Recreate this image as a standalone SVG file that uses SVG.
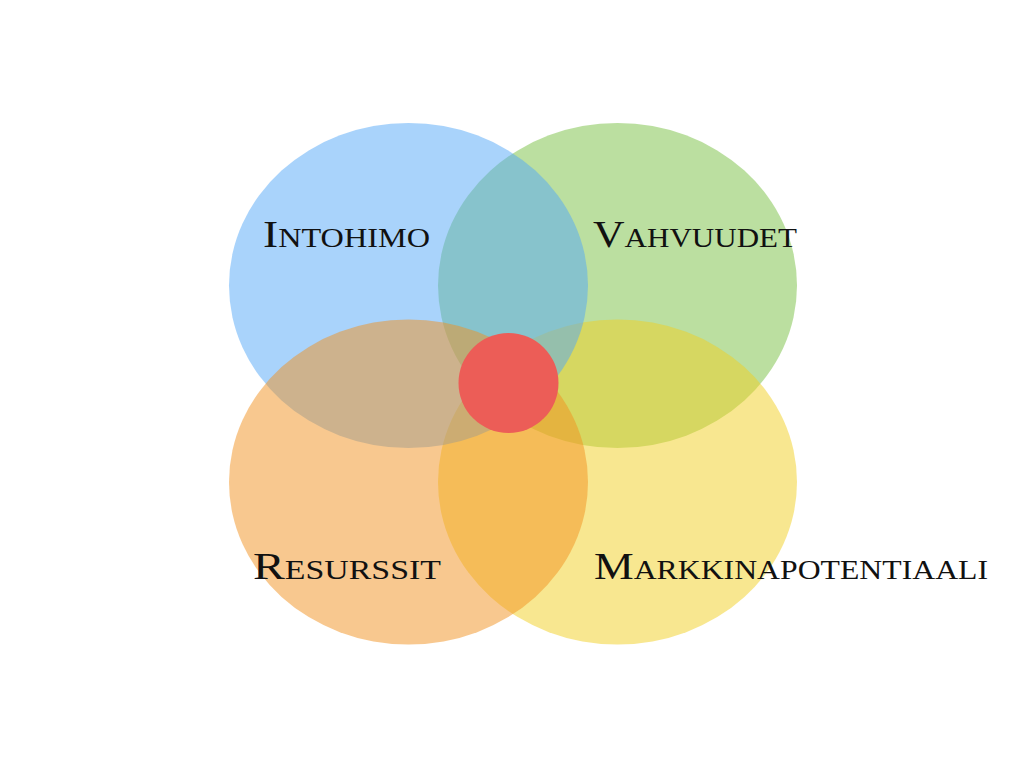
<svg xmlns="http://www.w3.org/2000/svg" width="1024" height="768" viewBox="0 0 1024 768">
<style>
.lbl{font-family:"Liberation Serif","DejaVu Serif",serif;font-size:38px;font-variant:small-caps;fill:#111;}
.c{fill-opacity:0.5;}
</style>
<rect width="1024" height="768" fill="#ffffff"/>
<g id="vahvuudet-circle"><ellipse class="c" cx="617.5" cy="285.5" rx="179.5" ry="162.5" fill="#77bf41"/></g>
<g id="markkina-circle"><ellipse class="c" cx="617.5" cy="482" rx="179.5" ry="162.5" fill="#f1cf21"/></g>
<g id="intohimo-circle"><ellipse class="c" cx="408.5" cy="285.5" rx="179.5" ry="162.5" fill="#53a7f7"/></g>
<g id="resurssit-circle"><ellipse class="c" cx="408.5" cy="482" rx="179.5" ry="162.5" fill="#f1911f"/></g>
<g id="center"><circle cx="508.5" cy="383" r="50" fill="#ec5d57"/></g>
<g id="labels">
<text class="lbl" x="263" y="247" textLength="167" lengthAdjust="spacingAndGlyphs">Intohimo</text>
<text class="lbl" x="593" y="247" textLength="204" lengthAdjust="spacingAndGlyphs">Vahvuudet</text>
<text class="lbl" x="253" y="579" textLength="188" lengthAdjust="spacingAndGlyphs">Resurssit</text>
<text class="lbl" x="594" y="579" textLength="394" lengthAdjust="spacingAndGlyphs">Markkinapotentiaali</text>
</g>
</svg>
